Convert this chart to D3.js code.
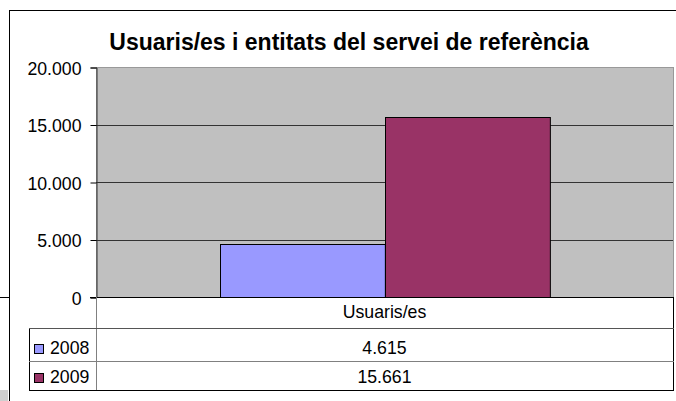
<!DOCTYPE html>
<html>
<head>
<meta charset="utf-8">
<script src="https://cdn.jsdelivr.net/npm/d3@7"></script>
<style>
  body { margin: 0; background: #fff; }
  svg { display: block; }
  text { font-family: "Liberation Sans", Arial, sans-serif; fill: #000; }
</style>
</head>
<body>
<div id="chart"></div>
<script>
var title = 'Usuaris/es i entitats del servei de referència';
var categories = ['Usuaris/es'];
var seriesNames = ['2008', '2009'];
var seriesValues = [[4615], [15661]];
var seriesColors = ['#9999FF', '#993366'];
var yTicks = [0, 5000, 10000, 15000, 20000];

var width = 676, height = 401;
var labelSize = 17.7;

var plot = { left: 96, right: 673, top: 67, bottom: 297 };
var rowLines = [297, 328, 361, 390];
var keyLeft = 29;

var locale = d3.formatLocale({ decimal: ',', thousands: '.', grouping: [3], currency: ['', ' €'] });
var fmt = locale.format(',d');

var svg = d3.select('#chart').append('svg')
    .attr('width', width)
    .attr('height', height);

function addText(parent, x, y, str, size, anchor, weight) {
    return parent.append('text')
        .attr('x', x)
        .attr('y', y)
        .attr('text-anchor', anchor)
        .attr('font-size', size)
        .attr('font-weight', weight || 'normal')
        .text(str);
}

// bits of the sheet showing behind the chart
svg.append('rect').attr('x', 0).attr('y', 390).attr('width', 8).attr('height', 11).attr('fill', '#cfcfcf');
svg.append('line').attr('x1', 0).attr('x2', 9).attr('y1', 297.5).attr('y2', 297.5).attr('stroke', '#000');

// chart frame
svg.append('rect')
    .attr('x', 9.5).attr('y', 10.5)
    .attr('width', 700).attr('height', 420)
    .attr('fill', '#fff')
    .attr('stroke', '#000');

addText(svg, 349, 50, title, 23, 'middle', 'bold');

var y = d3.scaleLinear().domain([0, 20000]).range([plot.bottom, plot.top]);
var x0 = d3.scaleBand().domain(categories).range([plot.left, plot.right]);
// excel gap width 150%: band = 3.5 bars
var x1 = d3.scaleBand().domain(seriesNames)
    .range([x0.bandwidth() * 0.75 / 3.5, x0.bandwidth() * 2.75 / 3.5]);

svg.append('rect')
    .attr('x', plot.left + 0.5).attr('y', plot.top + 0.5)
    .attr('width', plot.right - plot.left).attr('height', plot.bottom - plot.top)
    .attr('fill', '#C0C0C0')
    .attr('stroke', '#999');

svg.append('g').selectAll('line.grid')
    .data(yTicks.filter(function (d) { return d > 0 && d < 20000; }))
    .enter().append('line')
    .attr('class', 'grid')
    .attr('x1', plot.left).attr('x2', plot.right)
    .attr('y1', function (d) { return Math.round(y(d)) + 0.5; })
    .attr('y2', function (d) { return Math.round(y(d)) + 0.5; })
    .attr('stroke', '#333');

// bars
var groups = svg.append('g').selectAll('g.cat')
    .data(categories)
    .enter().append('g')
    .attr('class', 'cat')
    .attr('transform', function (d) { return 'translate(' + x0(d) + ',0)'; });

groups.selectAll('rect')
    .data(function (d, ci) {
        return seriesNames.map(function (s, si) {
            return { name: s, value: seriesValues[si][ci], color: seriesColors[si] };
        });
    })
    .enter().append('rect')
    .attr('x', function (d) { return Math.round(x1(d.name)) + 0.5; })
    .attr('y', function (d) { return Math.round(y(d.value)) + 0.5; })
    .attr('width', x1.bandwidth())
    .attr('height', function (d) { return plot.bottom - Math.round(y(d.value)); })
    .attr('fill', function (d) { return d.color; })
    .attr('stroke', '#000');

// y axis
var yAxis = d3.axisLeft(y).tickValues(yTicks).tickSize(6).tickFormat(fmt);
var axisG = svg.append('g')
    .attr('transform', 'translate(' + (plot.left + 0.5) + ',0.5)')
    .call(yAxis);
axisG.select('.domain').attr('stroke', '#333');
axisG.selectAll('.tick line').attr('stroke', '#000');
axisG.selectAll('.tick text').remove();
axisG.selectAll('.tick').each(function (d) {
    addText(d3.select(this), -15, 6.5, fmt(d), labelSize, 'end');
});

// data table under the plot
var table = svg.append('g');
table.append('line')
    .attr('x1', plot.left - 6).attr('x2', plot.right)
    .attr('y1', plot.bottom + 0.5).attr('y2', plot.bottom + 0.5)
    .attr('stroke', '#000');
table.append('line')
    .attr('x1', plot.left + 0.5).attr('x2', plot.left + 0.5)
    .attr('y1', plot.bottom).attr('y2', rowLines[3])
    .attr('stroke', '#808080');
table.append('line')
    .attr('x1', plot.right + 0.5).attr('x2', plot.right + 0.5)
    .attr('y1', plot.bottom).attr('y2', rowLines[3] + 1)
    .attr('stroke', '#000');
table.append('line')
    .attr('x1', keyLeft + 0.5).attr('x2', keyLeft + 0.5)
    .attr('y1', rowLines[1]).attr('y2', rowLines[3] + 1)
    .attr('stroke', '#000');
[1, 2, 3].forEach(function (i) {
    table.append('line')
        .attr('x1', keyLeft).attr('x2', plot.right + 1)
        .attr('y1', rowLines[i] + 0.5).attr('y2', rowLines[i] + 0.5)
        .attr('stroke', i === 2 ? '#808080' : (i === 1 ? '#555' : '#000'));
});

categories.forEach(function (c) {
    addText(table, x0(c) + x0.bandwidth() / 2, 318, c, labelSize, 'middle');
});

seriesNames.forEach(function (s, si) {
    var base = rowLines[si + 2] - 7;
    table.append('rect')
        .attr('x', 34.5).attr('y', base - 9.5)
        .attr('width', 9).attr('height', 9)
        .attr('fill', seriesColors[si])
        .attr('stroke', '#000');
    addText(table, 50, base, s, labelSize, 'start');
    categories.forEach(function (c, ci) {
        addText(table, x0(c) + x0.bandwidth() / 2, base, fmt(seriesValues[si][ci]), labelSize, 'middle');
    });
});
</script>
</body>
</html>
